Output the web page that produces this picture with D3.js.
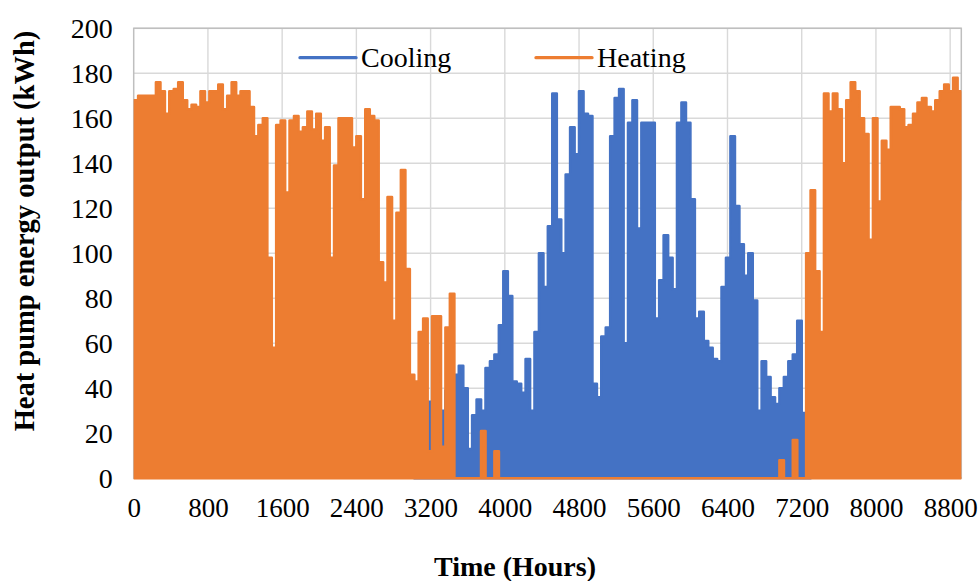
<!DOCTYPE html>
<html>
<head>
<meta charset="utf-8">
<script src="https://cdn.jsdelivr.net/npm/d3@7"></script>
<style>
  body { margin: 0; background: #fff; }
  svg text { font-family: "Liberation Serif", "Times New Roman", serif; fill: #000; }
</style>
</head>
<body>
<svg id="chart" width="979" height="581"></svg>
<script>
const stepHours = 48

// heating, windows 0..82 (Jan - mid May, incl. the odd spring spikes)
const heatingEarly = [
  168, 170, 170, 170, 170, 176, 172, 162, 172, 173,
  176, 168, 164, 166, 165, 172, 167, 172, 172, 175,
  164, 170, 176, 170, 172, 172, 165, 152, 157, 160,
  98, 58, 157, 159, 127, 159, 161, 154, 156, 163,
  155, 162, 150, 156, 98, 139, 160, 160, 160, 147,
  152, 124, 164, 161, 159, 96, 87, 125, 70, 118,
  137, 93, 46, 43, 65, 71, 12, 72, 72, 14,
  67, 82, 0, 0, 0, 0, 0, 0, 21, 0,
  0, 12, 0
]

// heating, windows 144..186 (autumn / winter)
const heatingLateStart = 144
const heatingLate = [
  0, 8, 0, 0, 17, 0, 0, 100, 128, 92,
  65, 171, 163, 171, 164, 140, 168, 176, 172, 160,
  153, 106, 160, 123, 150, 146, 165, 165, 164, 156,
  157, 162, 167, 169, 165, 163, 168, 172, 175, 172,
  178, 172, 124
]

// cooling, windows 63..151
const coolingStart = 63
const cooling = [
  23, 20, 25, 34, 25, 20, 30, 39, 30, 46,
  50, 40, 13, 28, 35, 30, 49, 52, 55, 68,
  92, 81, 43, 42, 38, 53, 30, 65, 100, 85,
  112, 171, 115, 100, 135, 156, 144, 172, 162, 161,
  42, 36, 63, 67, 152, 169, 173, 60, 158, 168,
  111, 158, 158, 158, 71, 88, 108, 98, 84, 158,
  167, 158, 124, 71, 74, 61, 58, 53, 52, 85,
  98, 152, 121, 104, 90, 100, 79, 30, 52, 45,
  36, 33, 40, 45, 52, 55, 70, 29, 28
]

const xTicks = d3.range(0, 8801, 800)
const yTicks = d3.range(0, 201, 20)
const legendItems = [
  { name: 'Cooling', color: '#4472C4' },
  { name: 'Heating', color: '#ED7D31' }
]

const svg = d3.select('#chart')
svg.append('rect').attr('width', 979).attr('height', 581).attr('fill', '#fff')

const x = d3.scaleLinear().domain([0, 8920]).range([133.7, 961.3])
const y = d3.scaleLinear().domain([0, 200]).range([478.3, 28.3])

// gridlines
svg.append('g').selectAll('line')
  .data(yTicks.filter(d => d > 0))
  .enter().append('line')
  .attr('x1', x(0)).attr('x2', x(8920))
  .attr('y1', d => y(d)).attr('y2', d => y(d))
  .attr('stroke', '#d9d9d9').attr('stroke-width', 1.4)

svg.append('g').selectAll('line')
  .data(xTicks.filter(d => d > 0))
  .enter().append('line')
  .attr('x1', d => x(d)).attr('x2', d => x(d))
  .attr('y1', y(0)).attr('y2', y(200))
  .attr('stroke', '#d9d9d9').attr('stroke-width', 1.4)

// plot border
svg.append('rect')
  .attr('x', x(0)).attr('y', y(200))
  .attr('width', x(8920) - x(0)).attr('height', y(0) - y(200))
  .attr('fill', 'none').attr('stroke', '#bfbfbf').attr('stroke-width', 1.5)

svg.append('clipPath').attr('id', 'plotClip')
  .append('rect')
  .attr('x', x(0)).attr('y', y(200))
  .attr('width', x(8920) - x(0)).attr('height', y(0) - y(200) + 4)

function toPoints(values, start) {
  let pts = values.map((v, i) => [(start + i) * stepHours, v])
  // hold the last window until its end
  pts.push([(start + values.length) * stepHours, values[values.length - 1]])
  return pts
}

const heating = d3.range(heatingLateStart + heatingLate.length).map(i => {
  if (i < heatingEarly.length) return heatingEarly[i]
  if (i >= heatingLateStart) return heatingLate[i - heatingLateStart]
  return 0
})

const area = d3.area()
  .curve(d3.curveStepAfter)
  .x(d => x(d[0]))
  .y0(y(0))
  .y1(d => y(d[1]))

const plot = svg.append('g').attr('clip-path', 'url(#plotClip)')

plot.append('path')
  .datum(toPoints(cooling, coolingStart))
  .attr('d', area)
  .attr('fill', legendItems[0].color)
  .attr('stroke', legendItems[0].color)
  .attr('stroke-width', 2.6)
  .attr('stroke-linejoin', 'round')

plot.append('path')
  .datum(toPoints(heating, 0))
  .attr('d', area)
  .attr('fill', legendItems[1].color)
  .attr('stroke', legendItems[1].color)
  .attr('stroke-width', 2.6)
  .attr('stroke-linejoin', 'round')

// axes
const yAxis = svg.append('g')
  .attr('transform', `translate(${x(0)},0)`)
  .call(d3.axisLeft(y).tickValues(yTicks).tickSize(0).tickPadding(21))
yAxis.select('.domain').remove()
yAxis.selectAll('text')
  .attr('font-family', '"Liberation Serif", serif')
  .attr('font-size', 28)

const xAxis = svg.append('g')
  .attr('transform', `translate(0,${y(0)})`)
  .call(d3.axisBottom(x).tickValues(xTicks).tickFormat(d3.format('d'))
    .tickSize(0).tickPadding(20))
xAxis.select('.domain').remove()
xAxis.selectAll('text')
  .attr('font-family', '"Liberation Serif", serif')
  .attr('font-size', 27)

// titles
svg.append('text')
  .attr('transform', 'translate(34,231) rotate(-90)')
  .attr('text-anchor', 'middle')
  .attr('font-size', 28.5)
  .attr('font-weight', 'bold')
  .text('Heat pump energy output (kWh)')

svg.append('text')
  .attr('x', 515).attr('y', 576)
  .attr('text-anchor', 'middle')
  .attr('font-size', 28)
  .attr('font-weight', 'bold')
  .text('Time (Hours)')

// legend
const legend = svg.append('g').selectAll('g')
  .data(legendItems)
  .enter().append('g')
  .attr('transform', (d, i) => `translate(${300 + i * 236},57.7)`)

legend.append('line')
  .attr('x1', 0).attr('x2', 56)
  .attr('stroke', d => d.color)
  .attr('stroke-width', 3.3)
  .attr('stroke-linecap', 'round')

legend.append('text')
  .attr('x', 61).attr('y', 9)
  .attr('font-size', 28)
  .text(d => d.name)
</script>
</body>
</html>
